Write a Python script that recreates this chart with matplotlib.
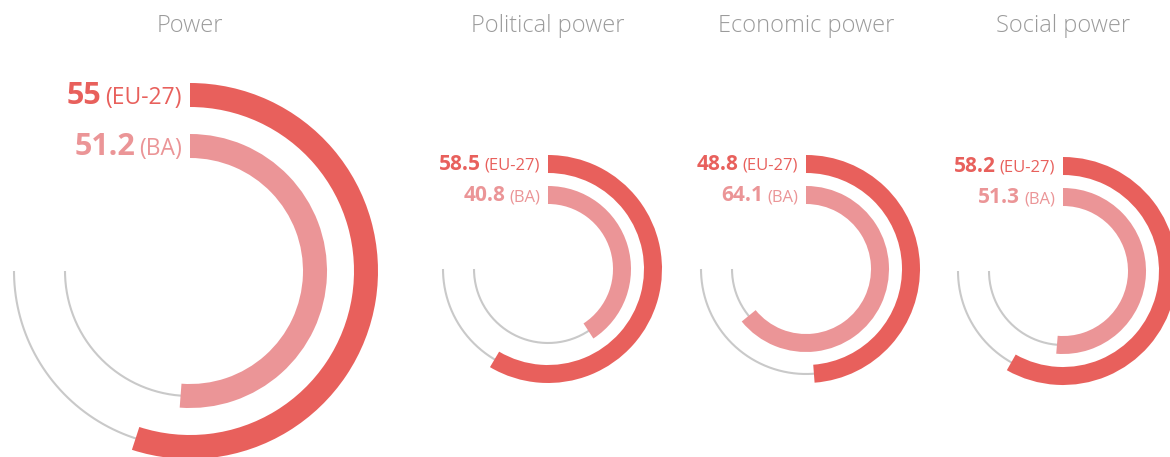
import numpy as np
import matplotlib
matplotlib.use("Agg")
import matplotlib.pyplot as plt

# Data (scores out of 100)
titles = ["Power", "Political power", "Economic power", "Social power"]
eu_values = [55, 58.5, 48.8, 58.2]
ba_values = [51.2, 40.8, 64.1, 51.3]
series_names = ["EU-27", "BA"]

# full circle = 100, grey track runs to 75 (three quarters)
SCALE_MAX = 100
TRACK_MAX = 75

EU_COLOR = "#e8605c"
BA_COLOR = "#eb9597"
TRACK_COLOR = "#c9c9c9"
TITLE_COLOR = "#9b9b9b"

plt.rcParams["font.family"] = ["Open Sans", "DejaVu Sans"]

W, H = 1170, 457
fig = plt.figure(figsize=(W / 100, H / 100), dpi=100)

# layout in pixels: centre x, centre y (from top), ring radii, ring width, font sizes
centers = [(190, 271), (548, 269), (806, 269), (1063, 271)]
outer_r = [176, 105, 105, 105]
inner_r = [125, 74, 74, 74]
ring_w = [24, 18, 18, 18]
num_size = [22, 15, 15, 15]
tag_size = [16.5, 12, 12, 12]
base_off = [9, 6, 6, 6]

renderer = fig.canvas.get_renderer()


def draw_label(ax, r_mid, number, tag, color, i):
    tag_txt = ax.annotate(f"({tag})", xy=(0, r_mid), xytext=(-8, -base_off[i]),
                          textcoords="offset pixels", ha="right", va="baseline",
                          color=color, fontsize=tag_size[i])
    w = tag_txt.get_window_extent(renderer).width
    ax.annotate(f"{number:g}", xy=(0, r_mid), xytext=(-8 - w - 4, -base_off[i]),
                textcoords="offset pixels", ha="right", va="baseline",
                color=color, fontsize=num_size[i], fontweight="bold")


for i, title in enumerate(titles):
    cx, cy = centers[i]
    R = outer_r[i] + ring_w[i] / 2 + 4
    ax = fig.add_axes([(cx - R) / W, (H - cy - R) / H, 2 * R / W, 2 * R / H],
                      projection="polar")
    ax.set_theta_zero_location("N")
    ax.set_theta_direction(-1)
    ax.set_ylim(0, R)
    ax.set_axis_off()

    rings = [(eu_values[i], outer_r[i], EU_COLOR, series_names[0]),
             (ba_values[i], inner_r[i], BA_COLOR, series_names[1])]
    for value, r_mid, color, name in rings:
        theta = np.linspace(0, TRACK_MAX / SCALE_MAX * 2 * np.pi, 300)
        ax.plot(theta, np.full_like(theta, r_mid), color=TRACK_COLOR, lw=1.5,
                solid_capstyle="butt", zorder=1)
        ax.bar(0, ring_w[i], width=value / SCALE_MAX * 2 * np.pi,
               bottom=r_mid - ring_w[i] / 2, align="edge", color=color,
               edgecolor="none", zorder=2)
        draw_label(ax, r_mid, value, name, color, i)

    fig.text(cx / W, 1 - 26 / H, title, ha="center", va="center",
             fontsize=17, color=TITLE_COLOR, fontweight="light")

fig.savefig("out.png", dpi=100, facecolor="white")
